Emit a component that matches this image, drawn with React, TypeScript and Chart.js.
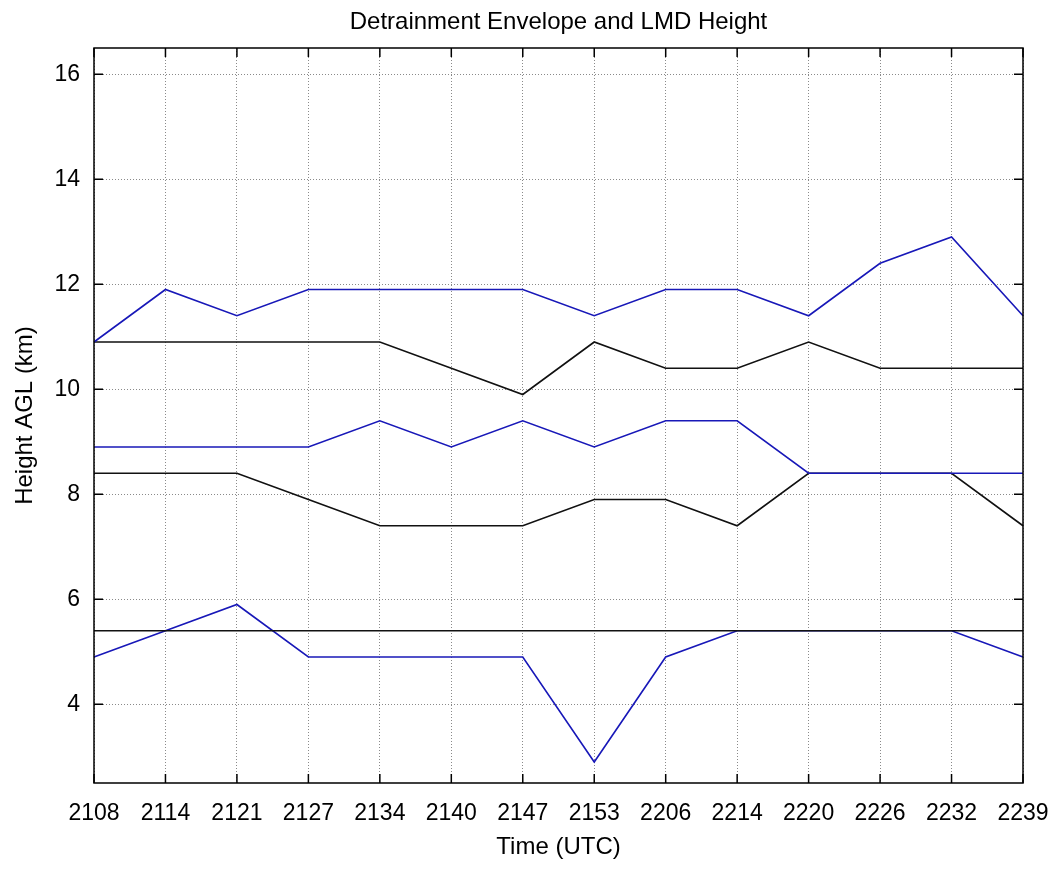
import React, { useEffect, useRef } from "react";
import { Chart, registerables } from "chart.js";

Chart.register(...registerables);

const times = ["2108", "2114", "2121", "2127", "2134", "2140", "2147", "2153", "2206", "2214", "2220", "2226", "2232", "2239"];
const blueTop = [10.9, 11.9, 11.4, 11.9, 11.9, 11.9, 11.9, 11.4, 11.9, 11.9, 11.4, 12.4, 12.9, 11.4];
const blackTop = [10.9, 10.9, 10.9, 10.9, 10.9, 10.4, 9.9, 10.9, 10.4, 10.4, 10.9, 10.4, 10.4, 10.4];
const blueMid = [8.9, 8.9, 8.9, 8.9, 9.4, 8.9, 9.4, 8.9, 9.4, 9.4, 8.4, 8.4, 8.4, 8.4];
const blackMid = [8.4, 8.4, 8.4, 7.9, 7.4, 7.4, 7.4, 7.9, 7.9, 7.4, 8.4, 8.4, 8.4, 7.4];
const lmdHeight = [5.4, 5.4, 5.4, 5.4, 5.4, 5.4, 5.4, 5.4, 5.4, 5.4, 5.4, 5.4, 5.4, 5.4];
const blueBottom = [4.9, 5.4, 5.9, 4.9, 4.9, 4.9, 4.9, 2.9, 4.9, 5.4, 5.4, 5.4, 5.4, 4.9];
const yTicks = [4, 6, 8, 10, 12, 14, 16];

const BLUE = "#1818b8";
const BLACK = "#111111";
const FONT = "'Liberation Sans', Arial, Helvetica, sans-serif";

const boxPlugin = {
  id: "boxTicks",
  afterDraw(chart: any) {
    const { ctx, chartArea } = chart;
    const { left, right, top, bottom } = chartArea;
    const xs = chart.scales.x;
    const ys = chart.scales.y;
    const len = 9;
    ctx.save();
    ctx.strokeStyle = "#000";
    ctx.lineWidth = 1.5;
    ctx.beginPath();
    ctx.rect(left, top, right - left, bottom - top);
    ctx.stroke();
    ctx.beginPath();
    xs.ticks.forEach((_t: any, i: number) => {
      const x = xs.getPixelForTick(i);
      ctx.moveTo(x, bottom);
      ctx.lineTo(x, bottom - len);
      ctx.moveTo(x, top);
      ctx.lineTo(x, top + len);
    });
    ys.ticks.forEach((_t: any, i: number) => {
      const y = ys.getPixelForTick(i);
      ctx.moveTo(left, y);
      ctx.lineTo(left + len, y);
      ctx.moveTo(right, y);
      ctx.lineTo(right - len, y);
    });
    ctx.stroke();
    ctx.restore();
  },
};

export default function App() {
  const ref = useRef<HTMLCanvasElement>(null);
  useEffect(() => {
    if (!ref.current) return;
    const mk = (label: string, data: number[], color: string) => ({
      label,
      data,
      borderColor: color,
      backgroundColor: color,
      borderWidth: 1.6,
      pointRadius: 0,
      tension: 0,
      fill: false,
    });
    const chart = new Chart(ref.current, {
      type: "line",
      data: {
        labels: times,
        datasets: [
          mk("Envelope top", blueTop, BLUE),
          mk("Detrainment top", blackTop, BLACK),
          mk("Envelope mid", blueMid, BLUE),
          mk("Detrainment bottom", blackMid, BLACK),
          mk("LMD Height", lmdHeight, BLACK),
          mk("Envelope bottom", blueBottom, BLUE),
        ],
      },
      options: {
        animation: false,
        responsive: false,
        layout: { padding: { right: 30, top: 0, left: 0, bottom: 0 } },
        plugins: {
          legend: { display: false },
          tooltip: { enabled: false },
          title: {
            display: true,
            text: "Detrainment Envelope and LMD Height",
            fullSize: false,
            color: "#000",
            font: { family: FONT, size: 24, weight: "normal" },
            padding: { top: 7.5, bottom: 11.7 },
          },
        },
        scales: {
          x: {
            type: "category",
            offset: false,
            grid: { color: "#8a8a8a", drawTicks: false, lineWidth: 1 },
            border: { display: false, dash: [1, 2] },
            ticks: { color: "#000", font: { family: FONT, size: 23 }, padding: 17, maxRotation: 0, autoSkip: false },
            title: { display: true, text: "Time (UTC)", color: "#000", font: { family: FONT, size: 24 }, padding: { top: 4, bottom: 7.6 } },
            afterFit: (s: any) => { s.height = 86; s.paddingLeft = 0; s.paddingRight = 0; },
          },
          y: {
            min: 2.5,
            max: 16.5,
            grid: { color: "#8a8a8a", drawTicks: false, lineWidth: 1 },
            border: { display: false, dash: [1, 2] },
            ticks: { color: "#000", font: { family: FONT, size: 23 }, padding: 14 },
            afterBuildTicks: (s: any) => { s.ticks = yTicks.map((v) => ({ value: v })); },
            title: { display: true, text: "Height AGL (km)", color: "#000", font: { family: FONT, size: 24 }, padding: { top: 10.6, bottom: 4 } },
            afterFit: (s: any) => { s.width = 94; s.paddingTop = 0; s.paddingBottom = 0; },
          },
        },
      },
      plugins: [boxPlugin],
    });
    return () => chart.destroy();
  }, []);
  return (
    <div style={{ position: "absolute", left: 0, top: 0, width: 1053, height: 869, background: "#fff" }}>
      <canvas ref={ref} width={1053} height={869} style={{ display: "block" }} />
    </div>
  );
}
